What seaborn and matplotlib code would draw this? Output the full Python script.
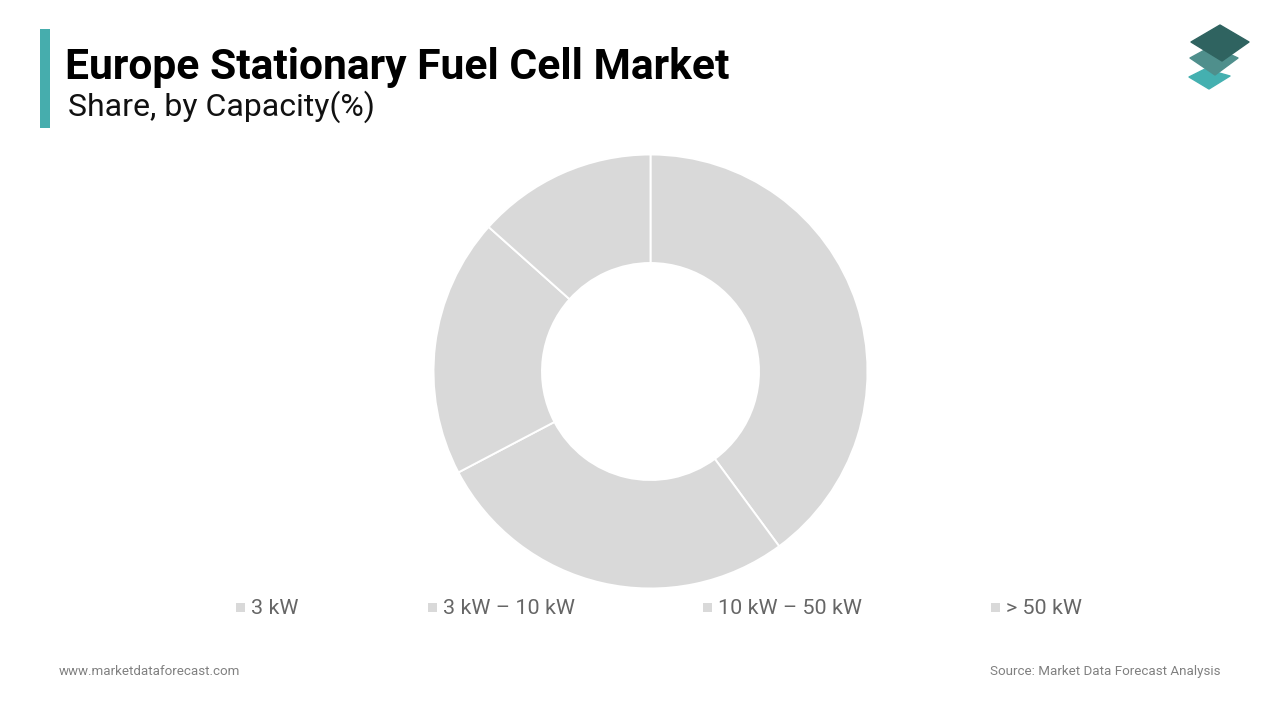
import matplotlib
matplotlib.use("Agg")
import matplotlib.pyplot as plt
from matplotlib.patches import Polygon, Rectangle
import seaborn as sns

categories = ["3 kW", "3 kW – 10 kW", "10 kW – 50 kW", "> 50 kW"]
shares = [39.9, 27.4, 19.3, 13.4]
slice_color = "#d9d9d9"

sns.set_theme(style="white")
plt.rcParams["font.family"] = ["Roboto", "DejaVu Sans"]

fig = plt.figure(figsize=(12.8, 7.2), dpi=100, facecolor="white")

# overlay in pixel coordinates, y going down like the screenshot
bg = fig.add_axes([0, 0, 1, 1])
bg.set_xlim(0, 1280)
bg.set_ylim(720, 0)
bg.axis("off")

# donut
ax = fig.add_axes([433.5 / 1280, 1 - 588.5 / 720, 434 / 1280, 434 / 720])
colors = sns.color_palette([slice_color], len(shares))
ax.pie(shares, colors=colors, startangle=90, counterclock=False, radius=1,
       wedgeprops=dict(width=0.5, edgecolor="white", linewidth=1.4))
ax.set_xlim(-1, 1)
ax.set_ylim(-1, 1)

# title block
bg.add_patch(Rectangle((40, 29), 10, 99, color="#46adad", lw=0))
bg.text(65, 67, "Europe Stationary Fuel Cell Market", fontsize=30.7, fontweight="bold",
        color="black", va="center", ha="left")
bg.text(68, 107, "Share, by Capacity(%)", fontsize=23, color="#111111", va="center", ha="left")

# legend
legend_x = [236, 428, 703, 991]
for x, label in zip(legend_x, categories):
    bg.add_patch(Rectangle((x, 603), 9, 9, color=slice_color, lw=0))
    bg.text(x + 15, 609, label, fontsize=15.45, color="#666666", va="center", ha="left")

# footer
bg.text(59, 671.5, "www.marketdataforecast.com", fontsize=9.6, color="#808080", va="center", ha="left")
bg.text(1220, 671.5, "Source: Market Data Forecast Analysis", fontsize=9.6, color="#808080",
        va="center", ha="right")

# logo, drawn back to front
logo_style = dict(lw=1, joinstyle="round")
bg.add_patch(Polygon([(1189, 77), (1205, 69), (1230, 76), (1209, 89)], color="#44b0b0", **logo_style))
bg.add_patch(Polygon([(1190, 58), (1212, 46), (1238, 58), (1215, 75)], color="#4f8f8c", **logo_style))
bg.add_patch(Polygon([(1191, 42), (1220, 25), (1249, 42), (1222, 61)], color="#2f6360", **logo_style))

fig.savefig("out.png", dpi=100, facecolor="white")
